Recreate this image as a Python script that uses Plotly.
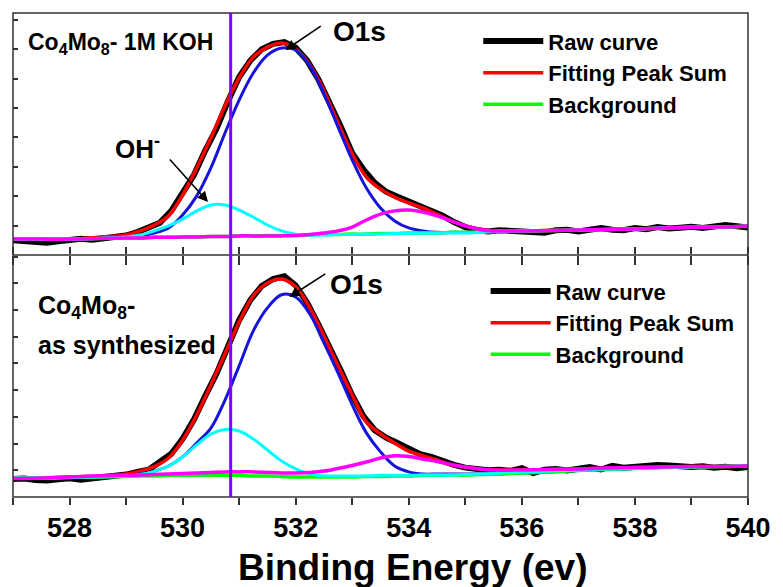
import plotly.graph_objects as go

# ---------------- data ----------------
# Binding energy grid (eV) for the fitted curves
E_FIT = [527.0, 527.5, 528.0, 528.5, 529.0, 529.25, 529.5, 529.75, 530.0, 530.25,
         530.5, 530.75, 531.0, 531.25, 531.5, 531.75, 532.0, 532.25, 532.5, 532.75,
         533.0, 533.25, 533.5, 533.75, 534.0, 534.25, 534.5, 534.75, 535.0, 535.25,
         535.5, 536.0, 536.5, 537.0, 537.5, 538.0, 538.5, 539.0, 539.5, 540.0]

# Binding energy grid (eV) for the measured spectra
E_RAW = [527.0, 527.2, 527.4, 527.6, 527.8, 528.0, 528.2, 528.4, 528.6, 528.8,
         529.0, 529.2, 529.4, 529.6, 529.8, 530.0, 530.2, 530.4, 530.6, 530.8,
         531.0, 531.2, 531.4, 531.6, 531.8, 532.0, 532.2, 532.4, 532.6, 532.8,
         533.0, 533.2, 533.4, 533.6, 533.8, 534.0, 534.2, 534.4, 534.6, 534.8,
         535.0, 535.2, 535.4, 535.6, 535.8, 536.0, 536.2, 536.4, 536.6, 536.8,
         537.0, 537.2, 537.4, 537.6, 537.8, 538.0, 538.2, 538.4, 538.6, 538.8,
         539.0, 539.2, 539.4, 539.6, 539.8, 540.0]

# --- Co4Mo8 after 1M KOH (upper panel), intensity in a.u. ---
KOH_RAW = [0.50, 0.48, 0.47, 0.42, 0.47, 0.50, 0.55, 0.52, 0.57, 0.60,
           0.66, 0.78, 0.92, 1.10, 1.50, 2.12, 2.72, 3.55, 4.30, 5.22,
           6.05, 6.62, 7.00, 7.18, 7.24, 7.05, 6.62, 5.98, 5.20, 4.35,
           3.46, 2.90, 2.45, 2.15, 1.98, 1.82, 1.66, 1.50, 1.34, 1.12,
           0.95, 0.85, 0.80, 0.84, 0.82, 0.85, 0.80, 0.76, 0.84, 0.86,
           0.80, 0.88, 0.92, 0.86, 0.84, 0.92, 0.88, 0.95, 0.90, 0.93,
           0.96, 0.92, 0.98, 1.02, 0.98, 0.93]
KOH_SUM = [0.54, 0.54, 0.54, 0.60, 0.68, 0.82, 1.02, 1.33, 2.04, 2.96,
           3.98, 5.07, 6.02, 6.73, 7.07, 7.21, 7.01, 6.46, 5.58, 4.49,
           3.44, 2.65, 2.24, 1.97, 1.77, 1.60, 1.39, 1.16, 0.99, 0.87,
           0.82, 0.82, 0.83, 0.85, 0.87, 0.88, 0.92, 0.94, 0.95, 0.99]
KOH_O1S = [0.54, 0.54, 0.54, 0.56, 0.60, 0.65, 0.75, 0.92, 1.36, 2.01,
           2.96, 4.15, 5.27, 6.19, 6.80, 7.04, 6.97, 6.43, 5.48, 4.35,
           3.23, 2.28, 1.60, 1.16, 0.92, 0.82, 0.77, 0.77, 0.77, 0.78,
           0.80, 0.82, 0.83, 0.85, 0.87, 0.88, 0.92, 0.94, 0.95, 0.99]
KOH_OH = [0.54, 0.54, 0.54, 0.56, 0.61, 0.68, 0.82, 0.99, 1.22, 1.50,
          1.70, 1.70, 1.53, 1.29, 1.02, 0.82, 0.71, 0.68, 0.68, 0.70,
          0.70, 0.71, 0.71, 0.73, 0.73, 0.75, 0.75, 0.75, 0.75, 0.77,
          0.80, 0.82, 0.83, 0.85, 0.87, 0.88, 0.92, 0.94, 0.95, 0.99]
KOH_H2O = [0.54, 0.54, 0.54, 0.56, 0.58, 0.58, 0.60, 0.60, 0.61, 0.61,
           0.63, 0.63, 0.65, 0.65, 0.65, 0.65, 0.66, 0.70, 0.75, 0.82,
           0.95, 1.19, 1.39, 1.50, 1.53, 1.46, 1.33, 1.16, 0.99, 0.87,
           0.82, 0.82, 0.83, 0.85, 0.87, 0.88, 0.92, 0.94, 0.95, 0.99]
KOH_BG = [0.54, 0.54, 0.54, 0.56, 0.58, 0.58, 0.60, 0.60, 0.61, 0.61,
          0.63, 0.63, 0.65, 0.65, 0.66, 0.66, 0.68, 0.68, 0.70, 0.70,
          0.71, 0.71, 0.73, 0.73, 0.75, 0.75, 0.75, 0.77, 0.77, 0.78,
          0.80, 0.82, 0.83, 0.85, 0.87, 0.88, 0.92, 0.94, 0.95, 0.99]

# --- Co4Mo8 as synthesized (lower panel), intensity in a.u. ---
SYN_RAW = [0.67, 0.69, 0.64, 0.62, 0.66, 0.70, 0.65, 0.70, 0.74, 0.76,
           0.84, 0.94, 1.02, 1.32, 1.62, 2.18, 2.90, 3.78, 4.62, 5.62,
           6.62, 7.38, 7.90, 8.16, 8.26, 7.92, 7.28, 6.46, 5.62, 4.72,
           3.80, 3.02, 2.50, 2.22, 2.02, 1.78, 1.60, 1.50, 1.34, 1.20,
           1.10, 1.06, 1.00, 1.02, 0.98, 1.08, 0.90, 1.02, 1.05, 0.99,
           1.05, 1.12, 1.03, 1.17, 1.10, 1.15, 1.17, 1.20, 1.18, 1.14,
           1.12, 1.15, 1.10, 1.13, 1.08, 1.12]
SYN_SUM = [0.71, 0.71, 0.75, 0.79, 0.86, 0.97, 1.14, 1.46, 2.13, 3.07,
           4.19, 5.36, 6.55, 7.53, 8.01, 8.16, 7.87, 7.08, 6.03, 4.91,
           3.82, 2.81, 2.36, 2.02, 1.72, 1.54, 1.39, 1.20, 1.12, 1.05,
           1.01, 1.01, 1.03, 1.05, 1.09, 1.10, 1.12, 1.14, 1.14, 1.16]
SYN_O1S = [0.71, 0.71, 0.73, 0.75, 0.81, 0.86, 0.97, 1.16, 1.50, 2.02,
           2.58, 3.63, 4.91, 6.22, 7.08, 7.57, 7.49, 6.85, 5.77, 4.64,
           3.45, 2.40, 1.69, 1.16, 0.94, 0.86, 0.86, 0.86, 0.86, 0.86,
           0.86, 0.90, 0.94, 0.99, 1.03, 1.07, 1.10, 1.12, 1.14, 1.16]
SYN_OH = [0.71, 0.71, 0.73, 0.75, 0.79, 0.84, 0.96, 1.16, 1.50, 1.95,
          2.36, 2.53, 2.47, 2.17, 1.76, 1.35, 1.05, 0.86, 0.79, 0.79,
          0.79, 0.79, 0.81, 0.81, 0.81, 0.82, 0.82, 0.82, 0.84, 0.86,
          0.88, 0.94, 0.97, 1.01, 1.05, 1.07, 1.10, 1.12, 1.14, 1.16]
SYN_H2O = [0.69, 0.71, 0.75, 0.79, 0.81, 0.82, 0.84, 0.86, 0.88, 0.90,
           0.92, 0.94, 0.94, 0.94, 0.92, 0.90, 0.90, 0.92, 0.97, 1.07,
           1.18, 1.31, 1.46, 1.54, 1.52, 1.42, 1.33, 1.22, 1.12, 1.05,
           1.01, 1.01, 1.03, 1.05, 1.09, 1.10, 1.12, 1.14, 1.14, 1.16]
SYN_BG = [0.71, 0.71, 0.73, 0.75, 0.77, 0.79, 0.79, 0.81, 0.81, 0.81,
          0.81, 0.81, 0.81, 0.79, 0.79, 0.77, 0.75, 0.75, 0.75, 0.75,
          0.75, 0.77, 0.77, 0.79, 0.79, 0.81, 0.81, 0.82, 0.82, 0.84,
          0.86, 0.90, 0.94, 0.99, 1.03, 1.07, 1.10, 1.12, 1.14, 1.16]

REF_ENERGY = 530.85          # marker line position (eV)
X_TICKS = [528, 530, 532, 534, 536, 538, 540]

# ---------------- style ----------------
FONT = "Liberation Sans, Arial, sans-serif"
AXC = "#333333"
C_RAW, C_SUM, C_O1S = "#000000", "#FF0000", "#1414DC"
C_OH, C_H2O, C_BG = "#00FFFF", "#FF00FF", "#00FF00"
C_REF = "#8000FF"

fig = go.Figure()


def add_panel(xa, ya, leg, raw, tot, o1s, oh, h2o, bg):
    common = dict(xaxis=xa, yaxis=ya, legend=leg, mode="lines")
    fig.add_trace(go.Scatter(x=E_RAW, y=raw, name="<b>Raw curve</b>",
                             line=dict(color=C_RAW, width=6), **common))
    fig.add_trace(go.Scatter(x=E_FIT, y=tot, name="<b>Fitting Peak Sum</b>",
                             line=dict(color=C_SUM, width=3.5, shape="spline"), **common))
    fig.add_trace(go.Scatter(x=E_FIT, y=o1s, showlegend=False,
                             line=dict(color=C_O1S, width=3, shape="spline"), **common))
    fig.add_trace(go.Scatter(x=E_FIT, y=bg, name="<b>Background</b>",
                             line=dict(color=C_BG, width=3.5, shape="spline"), **common))
    fig.add_trace(go.Scatter(x=E_FIT, y=oh, showlegend=False,
                             line=dict(color=C_OH, width=3, shape="spline"), **common))
    fig.add_trace(go.Scatter(x=E_FIT, y=h2o, showlegend=False,
                             line=dict(color=C_H2O, width=3.5, shape="spline"), **common))


add_panel("x2", "y2", "legend", KOH_RAW, KOH_SUM, KOH_O1S, KOH_OH, KOH_H2O, KOH_BG)
add_panel("x", "y", "legend2", SYN_RAW, SYN_SUM, SYN_O1S, SYN_OH, SYN_H2O, SYN_BG)

# frame around both panels and the divider between them
fig.add_shape(type="rect", xref="paper", yref="paper", x0=0, x1=1, y0=0, y1=1,
              line=dict(color=AXC, width=1.5), layer="above")
fig.add_shape(type="line", xref="paper", yref="paper", x0=0, x1=1, y0=0.5, y1=0.5,
              line=dict(color=AXC, width=1.5), layer="above")
# vertical reference line through both panels
fig.add_shape(type="line", xref="x", yref="paper", x0=REF_ENERGY, x1=REF_ENERGY,
              y0=0, y1=1, line=dict(color=C_REF, width=3), layer="above")

no_line = dict(showline=False, showgrid=False, zeroline=False)
minor = dict(dtick=1, ticks="outside", ticklen=7, tickwidth=1.5, tickcolor=AXC)

fig.update_layout(
    width=783, height=587,
    margin=dict(l=13, r=28, t=13, b=90),
    paper_bgcolor="white", plot_bgcolor="white",
    font=dict(family=FONT, color="black"),
    xaxis=dict(domain=[0, 1], anchor="y", range=[527, 540], tickvals=X_TICKS,
               ticktext=[f"<b>{v}</b>" for v in X_TICKS],
               ticks="outside", ticklen=7, tickwidth=1.5, tickcolor=AXC,
               mirror="ticks", minor=minor, tickfont=dict(size=27),
               ticklabelstandoff=0, **no_line),
    xaxis2=dict(domain=[0, 1], anchor="y2", matches="x", range=[527, 540],
                tickvals=X_TICKS, ticks="outside", ticklen=9, tickwidth=1.5,
                tickcolor=AXC, showticklabels=False, minor=dict(minor, ticklen=9),
                **no_line),
    yaxis=dict(domain=[0, 0.5], anchor="x", range=[0, 9.06], dtick=1,
               ticks="inside", ticklen=5, tickwidth=1.5, tickcolor=AXC,
               showticklabels=False, **no_line),
    yaxis2=dict(domain=[0.5, 1], anchor="x2", range=[0, 8.23], dtick=1,
                ticks="inside", ticklen=5, tickwidth=1.5, tickcolor=AXC,
                showticklabels=False, **no_line),
    legend=dict(x=0.633, y=0.985, xanchor="left", yanchor="top",
                bgcolor="rgba(0,0,0,0)", itemwidth=60,
                font=dict(size=22, family=FONT)),
    legend2=dict(x=0.643, y=0.4685, xanchor="left", yanchor="top",
                 bgcolor="rgba(0,0,0,0)", itemwidth=60,
                 font=dict(size=22, family=FONT)),
)

ann_font = dict(family=FONT, color="black")
annotations = [
    # x-axis title
    dict(xref="paper", yref="paper", x=0.543, y=-0.145, xanchor="center",
         yanchor="middle", text="<b>Binding Energy (ev)</b>", showarrow=False,
         font=dict(size=37, **ann_font)),
    dict(xref="paper", yref="paper", x=0.0175, y=0.936, xanchor="left", yanchor="middle",
         text="<b>Co<sub>4</sub>Mo<sub>8</sub>- 1M KOH</b>", showarrow=False,
         font=dict(size=23, **ann_font)),
    dict(xref="paper", yref="paper", x=0.031, y=0.393, xanchor="left", yanchor="middle",
         text="<b>Co<sub>4</sub>Mo<sub>8</sub>-</b>", showarrow=False,
         font=dict(size=25, **ann_font)),
    dict(xref="paper", yref="paper", x=0.031, y=0.315, xanchor="left", yanchor="middle",
         text="<b>as synthesized</b>", showarrow=False,
         font=dict(size=25, **ann_font)),
    dict(xref="x2", yref="y2", x=533.12, y=7.59, text="<b>O1s</b>", showarrow=False,
         font=dict(size=28, **ann_font)),
    dict(xref="x", yref="y", x=533.08, y=7.94, text="<b>O1s</b>", showarrow=False,
         font=dict(size=28, **ann_font)),
    dict(xref="x2", yref="y2", x=529.21, y=3.67, text="<b>OH<sup>-</sup></b>",
         showarrow=False, font=dict(size=26, **ann_font)),
    # arrows
    dict(xref="x2", yref="y2", axref="x2", ayref="y2", x=531.82, y=6.97,
         ax=532.47, ay=7.82, text="", showarrow=True, arrowhead=2, arrowsize=1.3,
         arrowwidth=1.6, arrowcolor="black"),
    dict(xref="x", yref="y", axref="x", ayref="y", x=531.89, y=7.49,
         ax=532.55, ay=8.39, text="", showarrow=True, arrowhead=2, arrowsize=1.3,
         arrowwidth=1.6, arrowcolor="black"),
    dict(xref="x2", yref="y2", axref="x2", ayref="y2", x=530.45, y=1.80,
         ax=529.75, ay=3.30, text="", showarrow=True, arrowhead=2, arrowsize=1.3,
         arrowwidth=1.6, arrowcolor="black"),
]
fig.update_layout(annotations=annotations)

fig.write_html("out.html")
